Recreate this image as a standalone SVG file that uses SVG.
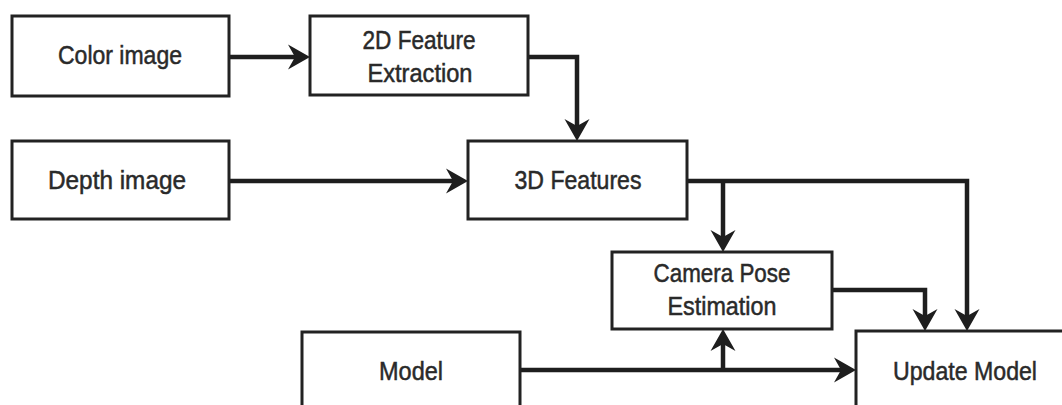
<svg xmlns="http://www.w3.org/2000/svg" width="1062" height="405" viewBox="0 0 1062 405">
  <style>
    .box { fill: #ffffff; stroke: #222222; stroke-width: 3; }
    .lbl { font-family: "Liberation Sans", Arial, sans-serif; font-size: 26px; fill: #2a2a2a; stroke: #2a2a2a; stroke-width: 0.5; text-anchor: middle; }
    .con { fill: none; stroke: #1e1e1e; stroke-width: 4.5; stroke-linejoin: miter; marker-end: url(#ah); }
  </style>
  <defs>
    <marker id="ah" markerUnits="userSpaceOnUse" markerWidth="40" markerHeight="30" viewBox="-20 -15 40 30" refX="0" refY="0" orient="auto" overflow="visible">
      <path d="M12,0 L-10,-12.5 L-3,0 L-10,12.5 Z" fill="#1e1e1e"/>
    </marker>
  </defs>
  <rect width="1062" height="405" fill="#ffffff"/>

  <g id="connectors">
    <path class="con" d="M229,57 H298"/>
    <path class="con" d="M528,57 H577 V129"/>
    <path class="con" d="M229,181 H456"/>
    <path class="con" d="M687,181 H967 V319"/>
    <path class="con" d="M723,181 V240"/>
    <path class="con" d="M832,290 H925 V319"/>
    <path class="con" d="M520,370 H844"/>
    <path class="con" d="M723,370 V341"/>
  </g>

  <g id="color-image">
    <rect class="box" x="12" y="16" width="217" height="80"/>
    <text class="lbl" x="120" y="64" textLength="124" lengthAdjust="spacingAndGlyphs">Color image</text>
  </g>
  <g id="feature-2d">
    <rect class="box" x="310" y="16" width="218" height="79"/>
    <text class="lbl" x="419" y="49" textLength="113" lengthAdjust="spacingAndGlyphs">2D Feature</text>
    <text class="lbl" x="420" y="82" textLength="105" lengthAdjust="spacingAndGlyphs">Extraction</text>
  </g>
  <g id="depth-image">
    <rect class="box" x="12" y="141" width="217" height="78"/>
    <text class="lbl" x="117" y="189" textLength="138" lengthAdjust="spacingAndGlyphs">Depth image</text>
  </g>
  <g id="features-3d">
    <rect class="box" x="468" y="141" width="219" height="78"/>
    <text class="lbl" x="578" y="189" textLength="127" lengthAdjust="spacingAndGlyphs">3D Features</text>
  </g>
  <g id="camera-pose">
    <rect class="box" x="612" y="252" width="220" height="77"/>
    <text class="lbl" x="722" y="282" textLength="137" lengthAdjust="spacingAndGlyphs">Camera Pose</text>
    <text class="lbl" x="722" y="315" textLength="109" lengthAdjust="spacingAndGlyphs">Estimation</text>
  </g>
  <g id="model">
    <rect class="box" x="302" y="332" width="218" height="90"/>
    <text class="lbl" x="411" y="380" textLength="64" lengthAdjust="spacingAndGlyphs">Model</text>
  </g>
  <g id="update-model">
    <rect class="box" x="856" y="331" width="218" height="90"/>
    <text class="lbl" x="965" y="380" textLength="144" lengthAdjust="spacingAndGlyphs">Update Model</text>
  </g>
</svg>
